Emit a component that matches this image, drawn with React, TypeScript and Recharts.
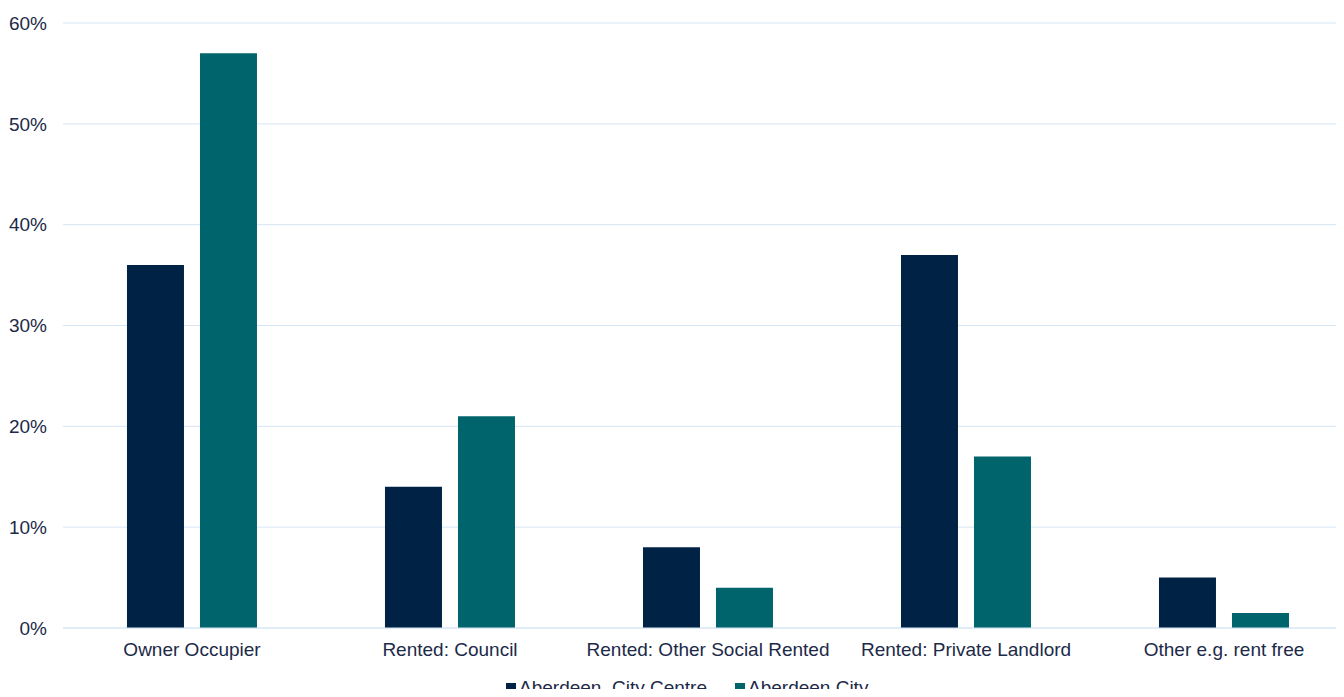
import { Bar, BarChart, CartesianGrid, Legend, XAxis, YAxis } from "recharts";

const tenures = [
  "Owner Occupier",
  "Rented: Council",
  "Rented: Other Social Rented",
  "Rented: Private Landlord",
  "Other e.g. rent free",
];
const cityCentre = [36, 14, 8, 37, 5];
const wholeCity = [57, 21, 4, 17, 1.5];
const yTicks = [0, 10, 20, 30, 40, 50, 60];

const NAVY = "#002345";
const TEAL = "#00646c";
const TEXT = "#1c2a48";
const GRID = "#d6e6f4";
const FONT = "'Liberation Sans', Arial, sans-serif";

const data = tenures.map((name, i) => ({
  name,
  centre: cityCentre[i],
  city: wholeCity[i],
}));

const legendItems = [
  { label: "Aberdeen  City Centre", color: NAVY },
  { label: "Aberdeen City", color: TEAL },
];

const LegendContent = () => (
  <div
    style={{
      display: "flex",
      justifyContent: "flex-start",
      gap: 28,
      fontFamily: FONT,
      fontSize: 19,
      lineHeight: "22px",
      color: TEXT,
      paddingLeft: 506,
    }}
  >
    {legendItems.map((item) => (
      <span key={item.label} style={{ display: "flex", alignItems: "center", whiteSpace: "pre" }}>
        <span
          style={{
            display: "inline-block",
            width: 10,
            height: 10,
            background: item.color,
            marginRight: 3,
          }}
        />
        {item.label}
      </span>
    ))}
  </div>
);

// single-line category label, no wrapping
const CategoryTick = (props: any) => {
  const { x, y, payload } = props;
  return (
    <text x={x} y={y + 20} textAnchor="middle" fill={TEXT} fontSize={19} fontFamily={FONT}>
      {payload.value}
    </text>
  );
};

const App = () => {
  return (
    <div style={{ margin: -8, width: 1344, height: 697, overflow: "hidden", background: "#fff" }}>
      <BarChart
        width={1360}
        height={712}
        data={data}
        margin={{ top: 23, right: 7, bottom: 0, left: 0 }}
        barGap={16}
        barCategoryGap="24.8%"
      >
        <CartesianGrid vertical={false} stroke={GRID} strokeWidth={1} />
        <XAxis
          dataKey="name"
          height={62}
          tickLine={false}
          axisLine={{ stroke: GRID }}
          interval={0}
          tick={<CategoryTick />}
        />
        <YAxis
          width={63}
          domain={[0, 60]}
          ticks={yTicks}
          tickFormatter={(v: number) => `${v}%`}
          tickLine={false}
          axisLine={false}
          tickMargin={10}
          tick={{ fill: TEXT, fontSize: 19, fontFamily: FONT }}
        />
        <Legend verticalAlign="bottom" content={<LegendContent />} wrapperStyle={{ bottom: 13 }} />
        <Bar dataKey="centre" fill={NAVY} isAnimationActive={false} />
        <Bar dataKey="city" fill={TEAL} isAnimationActive={false} />
      </BarChart>
    </div>
  );
};

export default App;
